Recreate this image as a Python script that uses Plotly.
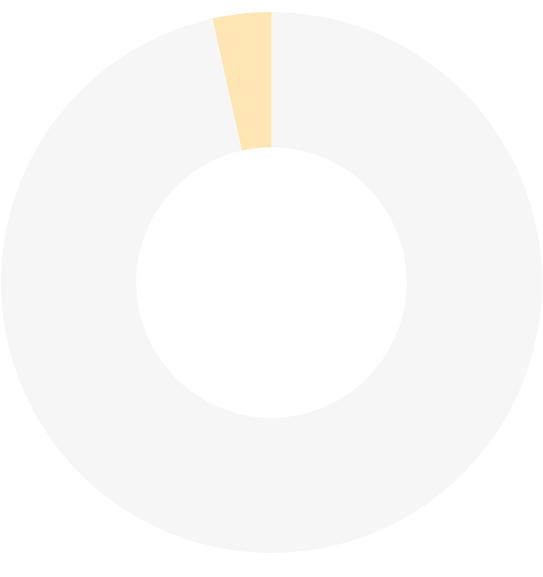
import plotly.graph_objects as go

# orden en sentido horario desde las 12
labels = ["Resto", "Parte"]
valores = [96.5, 3.5]
colores = ["#F6F6F6", "#FDE6B4"]

fig = go.Figure(
    go.Pie(
        labels=labels,
        values=valores,
        hole=0.5,
        sort=False,
        direction="clockwise",
        rotation=0,
        marker=dict(colors=colores, line=dict(width=0)),
        textinfo="none",
        hoverinfo="label+percent",
    )
)

fig.update_layout(
    width=543,
    height=577,
    showlegend=False,
    margin=dict(l=0, r=0, t=12, b=24),
    paper_bgcolor="white",
    plot_bgcolor="white",
)

fig.write_html(
    "out.html",
    config={"displayModeBar": False},
    post_script="document.body.style.margin='0';",
)
